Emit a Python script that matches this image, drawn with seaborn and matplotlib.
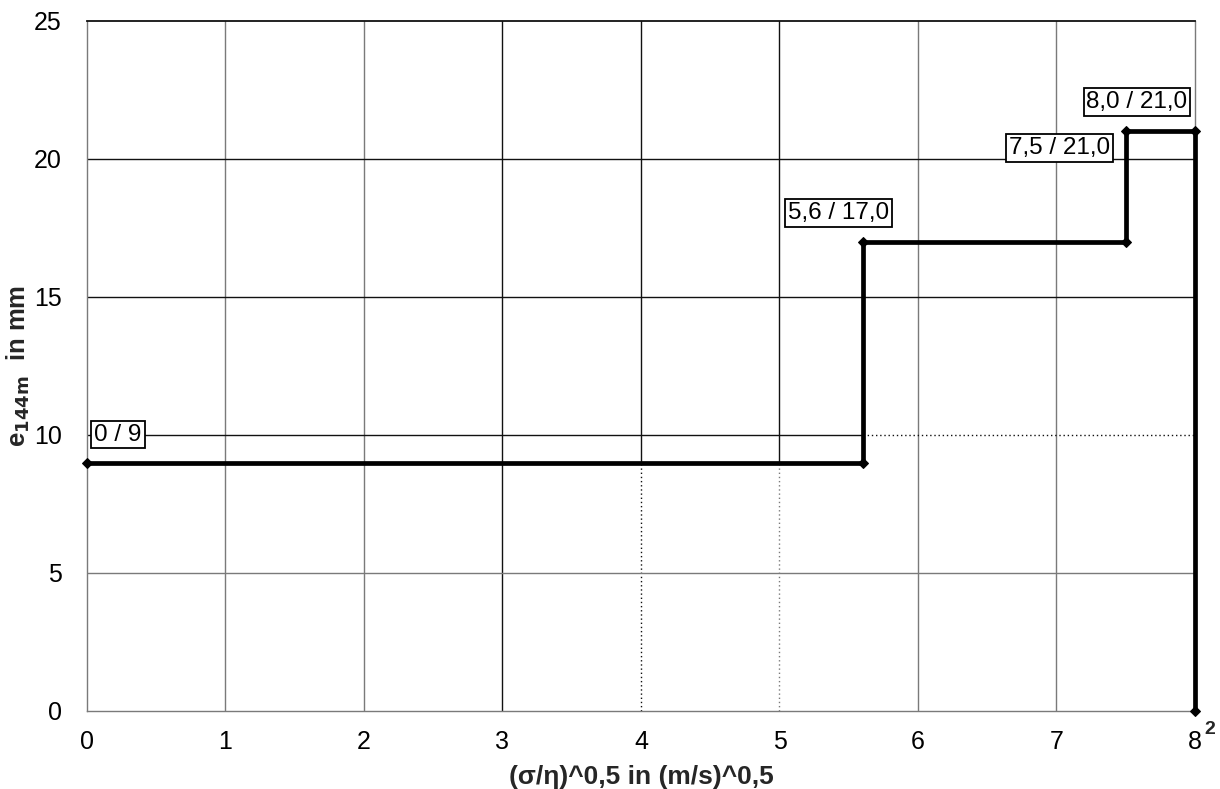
import matplotlib
matplotlib.use("Agg")
import matplotlib.pyplot as plt
import seaborn as sns
import pandas as pd

# Data
x_vals = [0.0, 5.6, 5.6, 7.5, 7.5, 8.0, 8.0]
y_vals = [9.0, 9.0, 17.0, 17.0, 21.0, 21.0, 0.0]
label_texts = ["0 / 9", "5,6 / 17,0", "7,5 / 21,0", "8,0 / 21,0"]
label_points = [(0.0, 9.0), (5.6, 17.0), (7.5, 21.0), (8.0, 21.0)]
label_offsets = [(31, 28), (-24, 29), (-66, -17), (-58, 29)]
x_ticks = [0, 1, 2, 3, 4, 5, 6, 7, 8]
y_ticks = [0, 5, 10, 15, 20, 25]

sns.set_theme(style="white")
plt.rcParams['font.family'] = ['Liberation Sans', 'DejaVu Sans']

fig = plt.figure(figsize=(12.2, 7.89), dpi=100)
ax = fig.add_axes([0.0713, 0.0989, 0.9082, 0.8745])

ax.set_xlim(0, 8)
ax.set_ylim(0, 25)

# grid lines
dark = "#111111"
grey = "#7a7a7a"
for xv in x_ticks[1:-1]:
    col = dark if xv in (3, 4, 5) else grey
    if xv in (4, 5):
        ax.plot([xv, xv], [9, 25], color=col, lw=1.0, zorder=1)
        ax.plot([xv, xv], [0, 9], color=grey if xv == 5 else dark, lw=1.0, ls=(0, (1, 2)), zorder=1)
    else:
        ax.plot([xv, xv], [0, 25], color=col, lw=1.0, zorder=1)
for yv in y_ticks[1:-1]:
    col = grey if yv == 5 else dark
    if yv == 10:
        ax.plot([0, 5.6], [yv, yv], color=col, lw=1.0, zorder=1)
        ax.plot([5.6, 8], [yv, yv], color=dark, lw=1.0, ls=(0, (1, 2)), zorder=1)
    else:
        ax.plot([0, 8], [yv, yv], color=col, lw=1.0, zorder=1)

df = pd.DataFrame({"x": x_vals, "y": y_vals})
sns.lineplot(data=df, x="x", y="y", sort=False, estimator=None, ax=ax,
             color="black", lw=3.4, marker="D", markersize=5,
             markeredgecolor="black", zorder=5, clip_on=False)

for txt, (px, py), off in zip(label_texts, label_points, label_offsets):
    ax.annotate(txt, xy=(px, py), xytext=off, textcoords="offset pixels",
                ha="center", va="center", fontsize=17.5, color="black",
                bbox=dict(boxstyle="square,pad=0.12", fc="white", ec="black", lw=1.3),
                zorder=6)

ax.set_xticks(x_ticks)
ax.set_yticks(y_ticks)
ax.set_xticklabels([str(t) for t in x_ticks])
ax.set_yticklabels([str(t) for t in y_ticks])
ax.tick_params(axis="both", which="both", direction="out", length=6, width=1,
               color=grey, labelsize=18, labelcolor="black", pad=8)
ax.tick_params(axis="y", pad=12)

for side in ["left", "bottom", "right"]:
    ax.spines[side].set_color(grey)
    ax.spines[side].set_linewidth(1)
ax.spines["top"].set_color(dark)
ax.spines["top"].set_linewidth(1.3)

ax.text(8.108, -0.68, "2", fontsize=14, fontweight="bold", ha="center", va="center",
        transform=ax.transData, clip_on=False)

ax.set_xlabel("(σ/η)^0,5 in (m/s)^0,5", fontsize=19, fontweight="bold")
ax.set_ylabel(r"e$_{\mathbf{144m}}$  in mm", fontsize=18.5, fontweight="bold")
ax.xaxis.set_label_coords(0.5, -0.078)
ax.yaxis.set_label_coords(-0.0495, 0.5)

fig.savefig("out.png", dpi=100)
